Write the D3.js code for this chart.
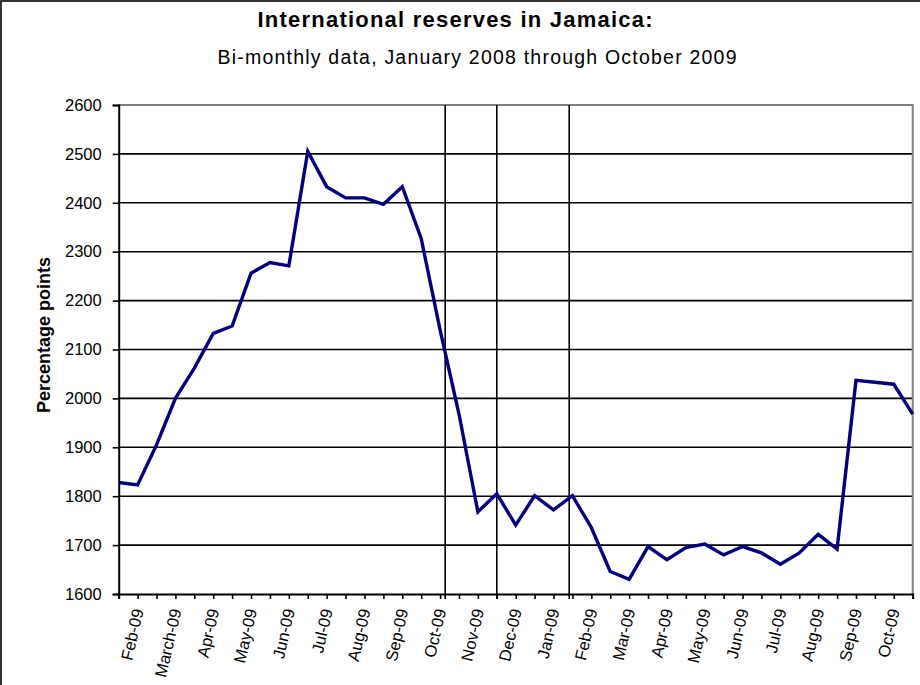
<!DOCTYPE html>
<html><head><meta charset="utf-8">
<script src="https://cdn.jsdelivr.net/npm/d3@7"></script>
<style>
html,body{margin:0;padding:0;background:#fff;}
svg{display:block;font-family:Arial,"Liberation Sans",sans-serif;}
</style></head><body>
<svg id="chart" width="920" height="685"></svg>
<script>
// Chart text
const title = "International reserves in Jamaica:";
const subtitle = "Bi-monthly data, January 2008 through October 2009";
const yAxisTitle = "Percentage points";

// Category labels, shown on every second observation
const xLabels = ["Feb-09","March-09","Apr-09","May-09","Jun-09","Jul-09","Aug-09","Sep-09","Oct-09",
  "Nov-09","Dec-09","Jan-09","Feb-09","Mar-09","Apr-09","May-09","Jun-09","Jul-09","Aug-09","Sep-09","Oct-09"];

// Bi-monthly reserve readings
const reserves = [1828,1823,1905,2000,2062,2133,2148,2256,2278,2271,
  2505,2433,2410,2410,2397,2433,2327,2140,1968,1768,
  1805,1741,1801,1772,1801,1736,1646,1630,1697,1670,
  1695,1702,1680,1697,1684,1661,1684,1722,1692,2037,
  2033,2029,1968];

// Value axis ticks
const yTicks = [1600,1700,1800,1900,2000,2100,2200,2300,2400,2500,2600];

// Vertical reference lines, in observation-index units
const markerAt = [17.27, 20, 23.83];

const svg = d3.select("#chart");
const W = 920, H = 685;
const plot = {left: 118.7, right: 912.7, top: 105, bottom: 594};

// Outer frame
svg.append("rect").attr("x", 1).attr("y", 1).attr("width", W + 10).attr("height", H + 10)
  .attr("fill", "#fff").attr("stroke", "#000").attr("stroke-width", 1.6);

const x = d3.scaleLinear().domain([0, reserves.length - 1]).range([plot.left, plot.right]);
const y = d3.scaleLinear().domain([1600, 2600]).range([plot.bottom, plot.top]);

// Titles
svg.append("text").attr("x", 455).attr("y", 27).attr("text-anchor", "middle")
  .attr("font-size", 22).attr("font-weight", "bold").attr("textLength", 395)
  .attr("lengthAdjust", "spacing").text(title);
svg.append("text").attr("x", 477).attr("y", 64).attr("text-anchor", "middle")
  .attr("font-size", 19.5).attr("textLength", 519).attr("lengthAdjust", "spacing")
  .text(subtitle);

// Horizontal gridlines
svg.append("g").selectAll("line").data(yTicks.filter(v => v !== 1600 && v !== 2600)).join("line")
  .attr("x1", plot.left).attr("x2", plot.right)
  .attr("y1", d => y(d)).attr("y2", d => y(d))
  .attr("stroke", "#000").attr("stroke-width", 1.6);

// Plot area border (top and right, grey)
svg.append("path")
  .attr("d", `M${plot.left},${y(2600)}H${plot.right}V${plot.bottom}`)
  .attr("fill", "none").attr("stroke", "#808080").attr("stroke-width", 2);

// Vertical reference lines
svg.append("g").selectAll("line").data(markerAt).join("line")
  .attr("x1", d => x(d)).attr("x2", d => x(d))
  .attr("y1", plot.top).attr("y2", plot.bottom + 5)
  .attr("stroke", "#000").attr("stroke-width", 1.6);

// Y axis
const yAxis = svg.append("g").attr("transform", `translate(${plot.left},0)`)
  .call(d3.axisLeft(y).tickValues(yTicks).tickSize(6).tickPadding(11).tickFormat(d3.format("d")));
yAxis.select(".domain").attr("stroke", "#000").attr("stroke-width", 2);
yAxis.selectAll(".tick line").attr("stroke", "#000").attr("stroke-width", 1.6);
yAxis.selectAll(".tick text").attr("font-size", 16.5).attr("fill", "#000")
  .attr("font-family", "Arial, 'Liberation Sans', sans-serif");

// X axis
const xAxis = svg.append("g").attr("transform", `translate(0,${plot.bottom})`)
  .call(d3.axisBottom(x).tickValues(d3.range(reserves.length)).tickSize(5)
    .tickFormat(i => i % 2 === 1 ? xLabels[(i - 1) / 2] : ""));
xAxis.select(".domain").attr("stroke", "#000").attr("stroke-width", 2);
xAxis.selectAll(".tick line").attr("stroke", "#000").attr("stroke-width", 1.6);
xAxis.selectAll(".tick text")
  .attr("font-size", 16.5).attr("fill", "#000")
  .attr("font-family", "Arial, 'Liberation Sans', sans-serif")
  .attr("text-anchor", "end")
  .attr("x", 0).attr("y", 0).attr("dy", "0.35em")
  .attr("transform", "translate(0,15) rotate(-77)");

// Y axis title
svg.append("text")
  .attr("transform", "translate(50,335) rotate(-90)")
  .attr("text-anchor", "middle").attr("font-size", 18).attr("font-weight", "bold")
  .text(yAxisTitle);

// Series line
svg.append("path").datum(reserves)
  .attr("fill", "none").attr("stroke", "#000080").attr("stroke-width", 3.4)
  .attr("stroke-linejoin", "miter")
  .attr("d", d3.line().x((d, i) => x(i)).y(d => y(d)));
</script>
</body></html>
